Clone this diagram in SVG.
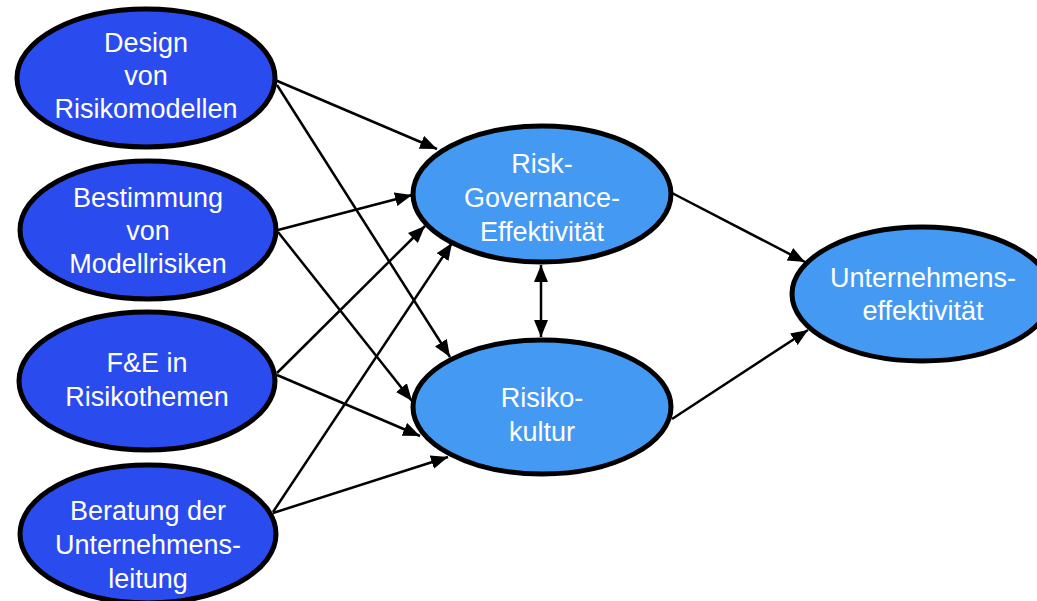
<svg xmlns="http://www.w3.org/2000/svg" width="1037" height="601" viewBox="0 0 1037 601">
  <style>
    .driver { fill: #2a4bee; stroke: #000; stroke-width: 5; }
    .outcome { fill: #4499f3; stroke: #000; stroke-width: 5; }
    .label { font-family: "Liberation Sans", Arial, sans-serif; font-size: 27px; fill: #fff; text-anchor: middle; }
    .edge { stroke: #000; stroke-width: 2.5; fill: none; marker-end: url(#head); }
  </style>
  <defs>
    <marker id="head" markerUnits="userSpaceOnUse" markerWidth="18" markerHeight="14" refX="17" refY="7" orient="auto-start-reverse">
      <path d="M0,0 L17,7 L0,14 z" fill="#000"/>
    </marker>
  </defs>
  <rect width="1037" height="601" fill="#fff"/>

  <g id="connectors">
    <line class="edge" x1="275" y1="80" x2="437" y2="149"/>
    <line class="edge" x1="277" y1="85" x2="450" y2="357"/>
    <line class="edge" x1="278" y1="230" x2="412" y2="195"/>
    <line class="edge" x1="278" y1="232" x2="412" y2="401"/>
    <line class="edge" x1="277" y1="373" x2="425" y2="226"/>
    <line class="edge" x1="277" y1="375" x2="420" y2="436"/>
    <line class="edge" x1="273" y1="512" x2="452" y2="243"/>
    <line class="edge" x1="273" y1="513" x2="448" y2="457"/>
    <line class="edge" x1="541" y1="265" x2="541" y2="337" marker-start="url(#head)"/>
    <line class="edge" x1="672" y1="193" x2="805" y2="262"/>
    <line class="edge" x1="672" y1="419" x2="808" y2="330"/>
  </g>

  <g id="design">
    <ellipse class="driver" cx="146" cy="78" rx="129" ry="69"/>
    <text class="label" x="146" y="52">Design</text>
    <text class="label" x="146" y="85">von</text>
    <text class="label" x="146" y="118">Risikomodellen</text>
  </g>

  <g id="bestimmung">
    <ellipse class="driver" cx="148" cy="230" rx="128" ry="69"/>
    <text class="label" x="148" y="207">Bestimmung</text>
    <text class="label" x="148" y="240">von</text>
    <text class="label" x="148" y="273">Modellrisiken</text>
  </g>

  <g id="fue">
    <ellipse class="driver" cx="147" cy="381" rx="128" ry="69"/>
    <text class="label" x="147" y="372">F&amp;E in</text>
    <text class="label" x="147" y="406">Risikothemen</text>
  </g>

  <g id="beratung">
    <ellipse class="driver" cx="148" cy="534" rx="128" ry="69"/>
    <text class="label" x="148" y="520">Beratung der</text>
    <text class="label" x="148" y="554">Unternehmens-</text>
    <text class="label" x="148" y="588">leitung</text>
  </g>

  <g id="governance">
    <ellipse class="outcome" cx="542" cy="194" rx="129" ry="68"/>
    <text class="label" x="542" y="173">Risk-</text>
    <text class="label" x="542" y="207">Governance-</text>
    <text class="label" x="542" y="241">Effektivität</text>
  </g>

  <g id="kultur">
    <ellipse class="outcome" cx="542" cy="407" rx="129" ry="67"/>
    <text class="label" x="542" y="407">Risiko-</text>
    <text class="label" x="542" y="441">kultur</text>
  </g>

  <g id="unternehmen">
    <ellipse class="outcome" cx="922" cy="294" rx="130" ry="67"/>
    <text class="label" x="923" y="287">Unternehmens-</text>
    <text class="label" x="923" y="320">effektivität</text>
  </g>
</svg>
